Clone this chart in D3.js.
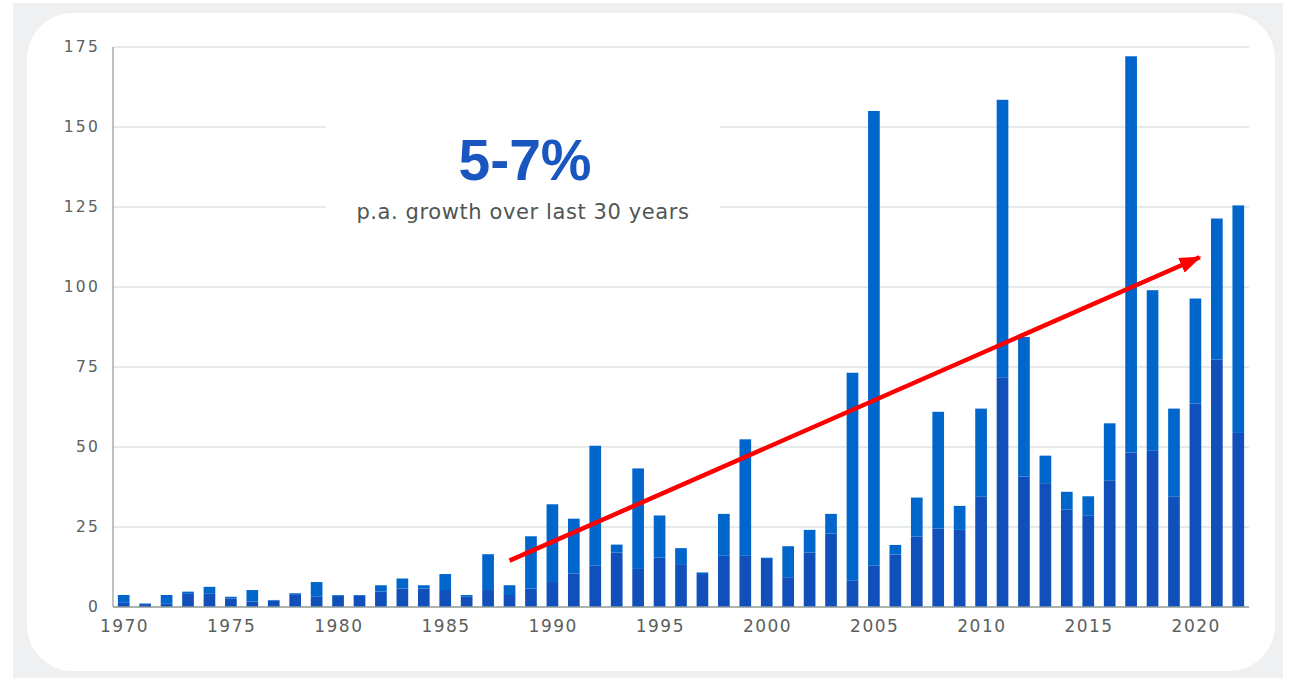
<!DOCTYPE html>
<html>
<head>
<meta charset="utf-8">
<script src="https://cdn.jsdelivr.net/npm/d3@7"></script>
<style>
  body { margin: 0; background: #fff; }
  svg text { font-family: "DejaVu Sans", Verdana, sans-serif; }
</style>
</head>
<body>
<div id="chart"></div>
<script>
// years on the x axis
const years = d3.range(1970, 2023);
// darker bottom part of each bar
const lowerValues = [
  1.3, 0.9, 1.0, 4.3, 4.3, 2.7, 1.7, 2.0, 4.0, 3.2,
  3.5, 3.5, 4.8, 5.8, 5.8, 5.3, 3.2, 5.3, 3.75, 5.8,
  7.8, 10.5, 12.9, 17, 11.9, 15.5, 13.4, 10.3, 16, 16,
  15, 9.3, 17, 23, 8.2, 12.9, 16.4, 22, 24.5, 24.1,
  34.6, 71.8, 40.8, 38.7, 30.5, 28.5, 39.6, 48.3, 48.8, 34.6,
  63.6, 77.3, 54.4
];
// lighter top part of each bar
const upperValues = [
  2.45, 0.2, 2.75, 0.5, 2.0, 0.5, 3.6, 0.2, 0.3, 4.6,
  0.25, 0.25, 2.0, 3.1, 1.0, 5.0, 0.55, 11.2, 3.05, 16.3,
  24.3, 17.1, 37.5, 2.5, 31.4, 13.1, 5.0, 0.5, 13.1, 36.4,
  0.4, 9.7, 7.1, 6.1, 65.0, 142.1, 3.0, 12.2, 36.5, 7.5,
  27.4, 86.7, 43.6, 8.6, 5.5, 6.1, 17.8, 123.8, 50.2, 27.4,
  32.8, 44.1, 71.1
];
const yTicks = [0, 25, 50, 75, 100, 125, 150, 175];
const xTicks = [1970, 1975, 1980, 1985, 1990, 1995, 2000, 2005, 2010, 2015, 2020];
// trend arrow: [year, value] start and end
const arrowFrom = [1988, 14.5];
const arrowTo = [2020.2, 109.3];
const headline = "5-7%";
const subline = "p.a. growth over last 30 years";

const W = 1289, H = 679;
const margin = {left: 113, right: 1249, top: 47, bottom: 607};

const svg = d3.select("#chart").append("svg")
    .attr("width", W).attr("height", H);

// panel background
svg.append("rect").attr("x", 13).attr("y", 3).attr("width", 1270).attr("height", 675)
    .attr("fill", "#eef0f2");
svg.append("rect").attr("x", 27).attr("y", 13).attr("width", 1248).attr("height", 658)
    .attr("rx", 46).attr("fill", "#fff");

const x = d3.scaleBand().domain(years).range([margin.left, margin.right])
    .paddingInner(0.455).paddingOuter(0.2275);
const y = d3.scaleLinear().domain([0, 175]).range([margin.bottom, margin.top]);

// gridlines
svg.append("g").selectAll("line").data(yTicks.filter(d => d > 0)).join("line")
    .attr("x1", margin.left).attr("x2", margin.right)
    .attr("y1", d => y(d)).attr("y2", d => y(d))
    .attr("stroke", "#cdd5d2").attr("stroke-width", 1.2);

// white box behind annotation breaks the gridlines
svg.append("rect").attr("x", 326).attr("y", 105).attr("width", 394).attr("height", 125)
    .attr("fill", "#fff");

// stacked bars
const rows = years.map((yr, i) => ({year: yr, lower: lowerValues[i], upper: upperValues[i]}));
const stack = d3.stack().keys(["lower", "upper"])(rows);
const colors = {lower: "#114fba", upper: "#0066cc"};

svg.append("g").selectAll("g").data(stack).join("g")
    .attr("fill", s => colors[s.key])
    .selectAll("rect").data(s => s).join("rect")
    .attr("x", d => x(d.data.year))
    .attr("width", x.bandwidth())
    .attr("y", d => y(d[1]))
    .attr("height", d => y(d[0]) - y(d[1]));

// axis lines
svg.append("line").attr("x1", margin.left).attr("x2", margin.left)
    .attr("y1", margin.top).attr("y2", margin.bottom)
    .attr("stroke", "#8f9a96").attr("stroke-width", 1.2);
svg.append("line").attr("x1", margin.left).attr("x2", margin.right)
    .attr("y1", margin.bottom).attr("y2", margin.bottom)
    .attr("stroke", "#8f9a96").attr("stroke-width", 1.5);

// y labels
const yAxis = svg.append("g").attr("transform", `translate(${margin.left - 13},0)`)
    .call(d3.axisLeft(y).tickValues(yTicks).tickSize(0).tickPadding(0));
yAxis.select(".domain").remove();
yAxis.selectAll("text")
    .attr("font-size", 15.5).attr("fill", "#5b605d")
    .style("letter-spacing", "2.2px")
    .style("font-family", "\"DejaVu Sans\", Verdana, sans-serif");

// x labels
const xAxis = svg.append("g").attr("transform", `translate(0,${margin.bottom})`)
    .call(d3.axisBottom(x).tickValues(xTicks).tickSize(0).tickPadding(13));
xAxis.select(".domain").remove();
xAxis.selectAll("text")
    .attr("font-size", 17).attr("fill", "#5b605d")
    .attr("dx", "0.8px")
    .style("letter-spacing", "1.5px")
    .style("font-family", "\"DejaVu Sans\", Verdana, sans-serif");

// annotation
svg.append("text").attr("x", 525).attr("y", 180).attr("text-anchor", "middle")
    .attr("font-size", 57).attr("font-weight", "bold").attr("fill", "#1a56c0")
    .style("font-family", "\"Liberation Sans\", Arial, sans-serif")
    .text(headline);
svg.append("text").attr("x", 523).attr("y", 219).attr("text-anchor", "middle")
    .attr("font-size", 21).attr("fill", "#4e5753")
    .style("letter-spacing", "0.6px")
    .text(subline);

// trend arrow
const px = v => x(Math.floor(v)) + x.bandwidth() / 2 + (v - Math.floor(v)) * x.step();
svg.append("defs").append("marker")
    .attr("id", "head").attr("markerUnits", "userSpaceOnUse")
    .attr("viewBox", "0 0 22 16").attr("refX", 20).attr("refY", 8)
    .attr("markerWidth", 22).attr("markerHeight", 16).attr("orient", "auto")
    .append("path").attr("d", "M0,0 L22,8 L0,16 Z").attr("fill", "#ff0000");
svg.append("line")
    .attr("x1", px(arrowFrom[0])).attr("y1", y(arrowFrom[1]))
    .attr("x2", px(arrowTo[0])).attr("y2", y(arrowTo[1]))
    .attr("stroke", "#ff0000").attr("stroke-width", 4.5)
    .attr("marker-end", "url(#head)");
</script>
</body>
</html>
